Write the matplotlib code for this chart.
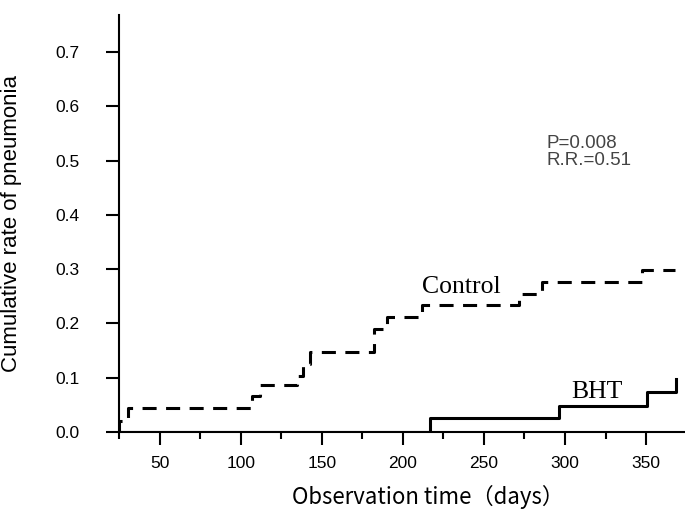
import numpy as np
import matplotlib.pyplot as plt
from matplotlib.ticker import MultipleLocator

# cumulative incidence, step points (day of event, rate after event)
control_days = [25, 25, 30.4, 107, 111.7, 134.8, 138.5, 142.6, 182, 190.3, 212, 271.8, 285.6, 347.3, 368]
control_rate = [0.0, 0.021, 0.044, 0.066, 0.086, 0.104, 0.126, 0.147, 0.190, 0.211, 0.233, 0.255, 0.276, 0.299, 0.299]

bht_days = [25, 216.7, 296, 350.5, 368.3]
bht_rate = [0.0, 0.025, 0.048, 0.073, 0.097]

x_ticks = [50, 100, 150, 200, 250, 300, 350]
y_ticks = [0.0, 0.1, 0.2, 0.3, 0.4, 0.5, 0.6, 0.7]

W, H = 685, 511
def px(x, y):
    # pixel position (from top-left) -> figure fraction
    return x / W, 1 - y / H

fig = plt.figure(figsize=(6.85, 5.11), dpi=100)
ax = fig.add_axes([119/W, 79/H, 566/W, 417/H])

ax.plot(control_days, control_rate, drawstyle='steps-post', color='black',
        lw=2.2, dashes=(4.6, 3.1))
ax.plot(bht_days, bht_rate, drawstyle='steps-post', color='black', lw=2.2)

ax.set_xlim(25, 374)
ax.set_ylim(0, 0.768)

for s in ['top', 'right']:
    ax.spines[s].set_visible(False)
for s in ['left', 'bottom']:
    ax.spines[s].set_linewidth(1.5)

ax.set_xticks(x_ticks)
ax.xaxis.set_minor_locator(MultipleLocator(50, offset=25))
ax.set_yticks(y_ticks)
ax.set_yticklabels([f'{v:.1f}' for v in y_ticks])

ax.tick_params(axis='x', which='major', length=9, width=1.5, pad=8, labelsize=12.5)
ax.tick_params(axis='x', which='minor', length=5, width=1.5)
ax.tick_params(axis='y', which='major', length=9.5, width=1.5, pad=19, labelsize=12.5)
for lab in ax.get_xticklabels() + ax.get_yticklabels():
    lab.set_family('Liberation Sans')

ax.set_ylabel('Cumulative rate of pneumonia', fontsize=16, family='Liberation Sans')
ax.yaxis.set_label_coords(-0.172, 0.5)

fig.text(*px(428, 504), 'Observation time（days）', ha='center', va='baseline',
         fontsize=16, family=['Noto Sans CJK JP', 'DejaVu Sans'])

# group labels next to the curves
fig.text(*px(461, 293), 'Control', ha='center', va='baseline', fontsize=18.5,
         family='Liberation Serif')
fig.text(*px(597, 398), 'BHT', ha='center', va='baseline', fontsize=18.5,
         family='Liberation Serif')

fig.text(*px(547, 148), 'P=0.008', ha='left', va='baseline', fontsize=13.5,
         color='#444444', family='Liberation Sans')
fig.text(*px(547, 165), 'R.R.=0.51', ha='left', va='baseline', fontsize=13.5,
         color='#444444', family='Liberation Sans')

fig.savefig('out.png', dpi=100)
